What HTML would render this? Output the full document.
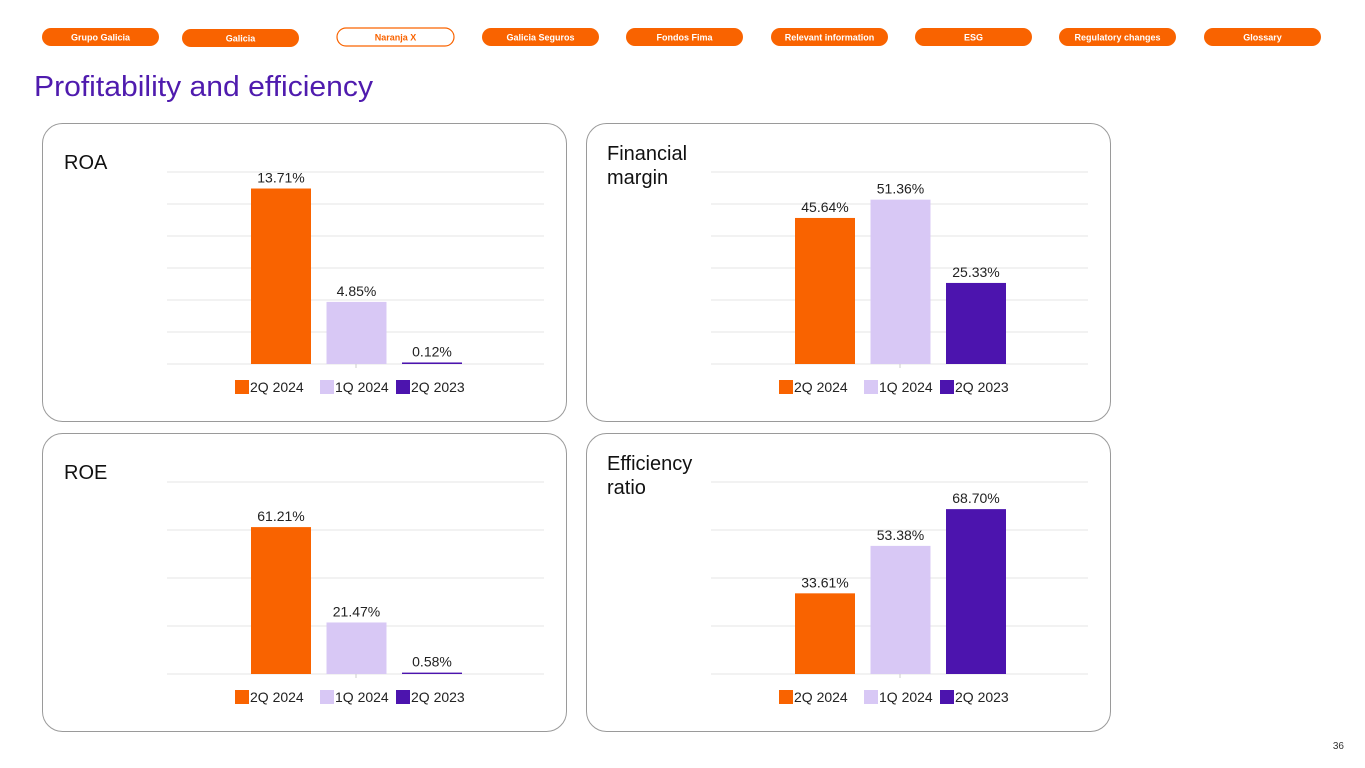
<!DOCTYPE html>
<html><head><meta charset="utf-8"><style>
html,body{margin:0;padding:0;background:#fff;}
svg{display:block;font-family:"Liberation Sans",sans-serif;}
</style></head><body>
<svg id="s" width="1365" height="768" viewBox="0 0 1365 768" xmlns="http://www.w3.org/2000/svg">
<g id="nav"></g>
<text x="34" y="96" font-size="29" fill="#4F1BAE" textLength="339" lengthAdjust="spacingAndGlyphs">Profitability and efficiency</text>
<text x="1344" y="749" font-size="10" fill="#333" text-anchor="end">36</text>
<g id="charts"></g>
</svg>
<script>
const navLabels=["Grupo Galicia","Galicia","Naranja X","Galicia Seguros","Fondos Fima","Relevant information","ESG","Regulatory changes","Glossary"];
const navX=[42,182,337,482,626,771,915,1059,1204];
const categories=["2Q 2024","1Q 2024","2Q 2023"];
const roaValues=[13.71,4.85,0.12];
const finValues=[45.64,51.36,25.33];
const roeValues=[61.21,21.47,0.58];
const effValues=[33.61,53.38,68.70];
const roaTicks=[0,2.5,5,7.5,10,12.5,15];
const finTicks=[0,10,20,30,40,50,60];
const roeTicks=[0,20,40,60,80];
const effTicks=[0,20,40,60,80];
const colors=["#F96300","#D8C8F5","#4C14AE"];
const NS="http://www.w3.org/2000/svg";
function mk(tag,attrs,parent){const e=document.createElementNS(NS,tag);for(const k in attrs)e.setAttribute(k,attrs[k]);parent.appendChild(e);return e;}
const nav=document.getElementById('nav');
navLabels.forEach((l,i)=>{
  const y=i===1?29:28;
  const out=i===2;
  const r=mk('rect',{x:navX[i],y:y,width:117,height:18,rx:9,fill:out?"#fff":"#F96300",stroke:"#F96300","stroke-width":out?1.2:0},nav);
  
  
  const t=mk('text',{x:navX[i]+58.5,y:y+12.5,"font-size":9,"font-weight":"bold","text-anchor":"middle",fill:out?"#F96300":"#fff"},nav);
  t.textContent=l;
  
  
});
const panels=[
 {title:["ROA"],vals:roaValues,ticks:roaTicks,px:42,py:123,name:"roa"},
 {title:["Financial","margin"],vals:finValues,ticks:finTicks,px:586,py:123,name:"financial-margin"},
 {title:["ROE"],vals:roeValues,ticks:roeTicks,px:42,py:433,name:"roe"},
 {title:["Efficiency","ratio"],vals:effValues,ticks:effTicks,px:586,py:433,name:"efficiency-ratio"}
];
const charts=document.getElementById('charts');
panels.forEach(p=>{
  const g=mk('g',{},charts);
  
  
  mk('rect',{x:p.px+0.5,y:p.py+0.5,width:524,height:298,rx:20,fill:"#fff",stroke:"#9a9a9a","stroke-width":1},g);
  p.title.forEach((t,i)=>{
    const tx=mk('text',{x:p.px+(p.title.length>1?21:22),y:p.py+(p.title.length>1?37:46)+i*24,"font-size":20,fill:"#111"},g);
    tx.textContent=t;
    
    
  });
  const x0=p.px+125,x1=p.px+502,yb=p.py+241,yt=p.py+49;
  const max=p.ticks[p.ticks.length-1];
  const yS=v=>yb-(v/max)*(yb-yt);
  p.ticks.forEach(t=>{
    const l=mk('line',{x1:x0,x2:x1,y1:yS(t),y2:yS(t),stroke:"#e6e6e6","stroke-width":1},g);
    
    
  });
  mk('line',{x1:p.px+314,x2:p.px+314,y1:yb,y2:yb+4,stroke:"#ccc"},g);
  const xC=i=>p.px+239+i*75.5;
  p.vals.forEach((v,i)=>{
    const top=yS(v);
    const b=mk('rect',{x:xC(i)-30,y:top,width:60,height:Math.max(yb-top,1),fill:colors[i]},g);
    
    
    const lt=mk('text',{x:xC(i),y:top-6,"font-size":14,"text-anchor":"middle",fill:"#222"},g);
    lt.textContent=v.toFixed(2)+"%";
    
    
  });
  const lx=[p.px+193,p.px+278,p.px+354];
  categories.forEach((c,i)=>{
    const sw=mk('rect',{x:lx[i],y:p.py+257,width:14,height:14,fill:colors[i]},g);
    
    
    const t=mk('text',{x:lx[i]+15,y:p.py+269,"font-size":14,fill:"#222"},g);
    t.textContent=c;
    
    
  });
});
</script>
</body></html>
